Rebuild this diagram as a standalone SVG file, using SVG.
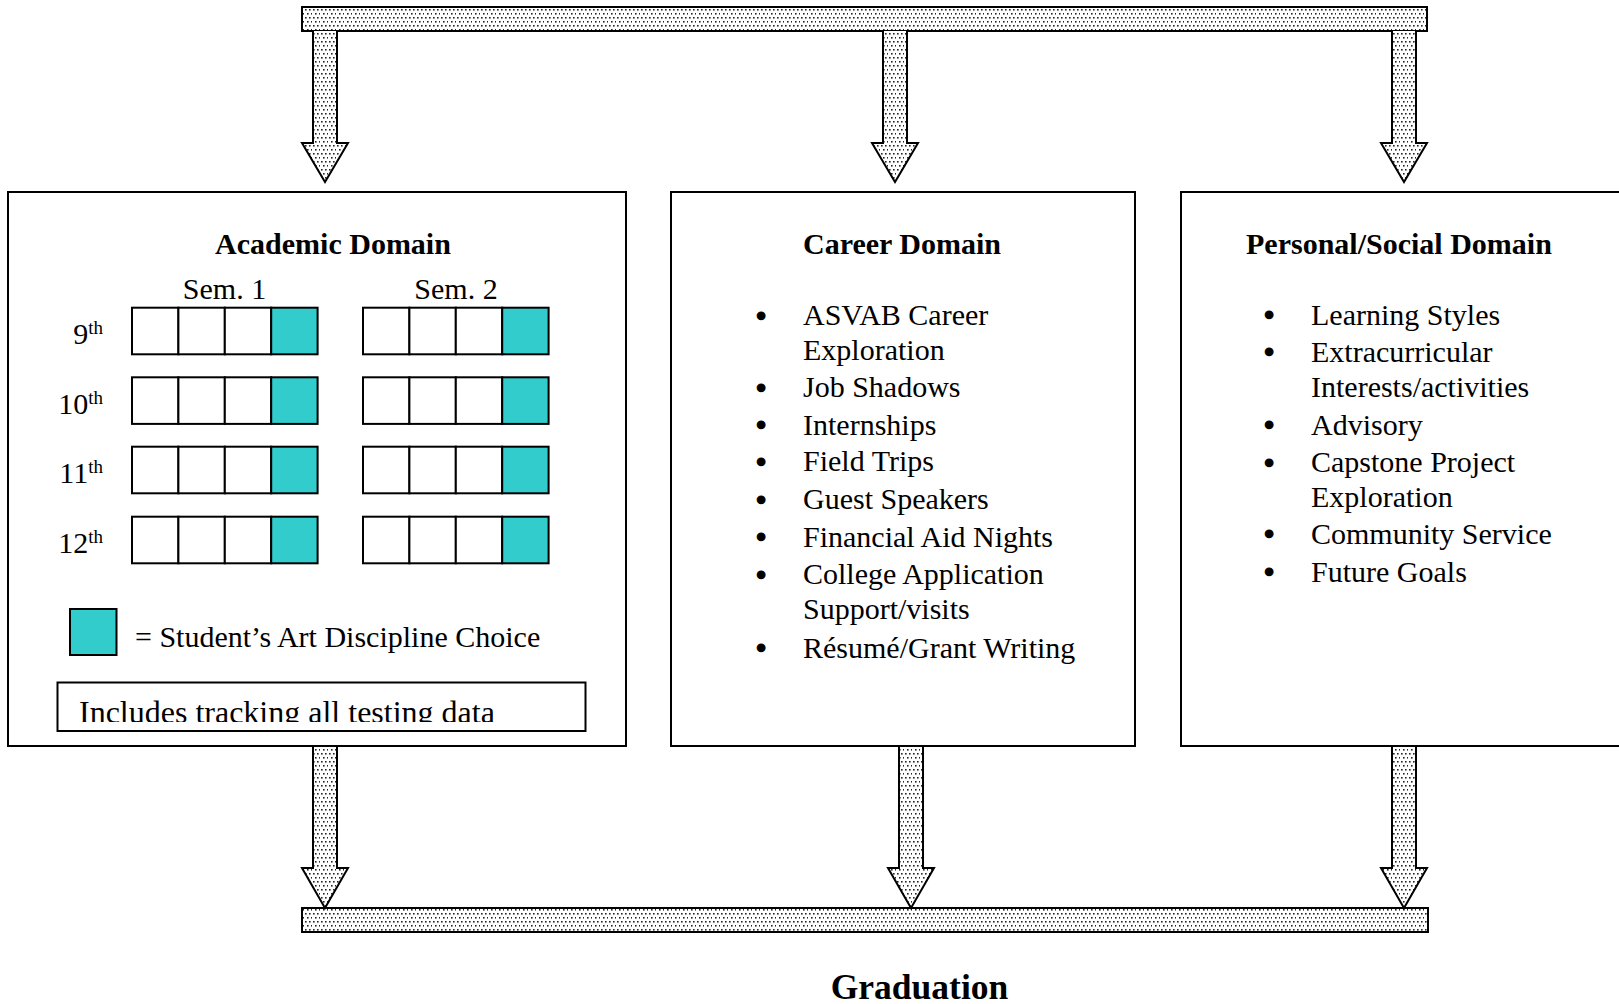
<svg xmlns="http://www.w3.org/2000/svg" width="1619" height="1004" viewBox="0 0 1619 1004">
<defs>
<pattern id="dots" width="8" height="8" patternUnits="userSpaceOnUse">
<rect width="8" height="8" fill="#ffffff"/>
<rect x="1" y="1" width="1.6" height="1.6" fill="#262626"/>
<rect x="5" y="1" width="1.6" height="1.6" fill="#262626"/>
<rect x="3" y="5" width="1.6" height="1.6" fill="#262626"/>
<rect x="7" y="5" width="1.6" height="1.6" fill="#262626"/>
</pattern>
<clipPath id="clipInc"><rect x="58" y="683" width="527" height="39"/></clipPath>
</defs>
<style>
.box{fill:#fff;stroke:#000;stroke-width:2}
.bar{fill:url(#dots);stroke:#000;stroke-width:2}
.arrow{fill:url(#dots);stroke:#000;stroke-width:2;stroke-linejoin:miter}
.cell{fill:#fff;stroke:#000;stroke-width:2}
.teal{fill:#33cccc;stroke:#000;stroke-width:2}
.h{font-family:"Liberation Serif","Times New Roman",serif;font-weight:bold;font-size:30px;fill:#000}
.t{font-family:"Liberation Serif","Times New Roman",serif;font-size:30px;fill:#000}
.sup{font-family:"Liberation Serif","Times New Roman",serif;font-size:19px;fill:#000}
.b{font-family:"Liberation Serif","Times New Roman",serif;font-size:32px;fill:#000;stroke:#000;stroke-width:1.2;text-anchor:middle}
</style>
<rect width="1619" height="1004" fill="#fff"/>

<g id="connectors">
<rect id="top-bar" class="bar" x="302" y="7" width="1125" height="24"/>
<path class="arrow" d="M313,31 V143 H302 L325,182 L348,143 H337 V31"/>
<path class="arrow" d="M883,31 V143 H872 L895,182 L918,143 H907 V31"/>
<path class="arrow" d="M1392,31 V143 H1381 L1404,182 L1427,143 H1416 V31"/>
<rect id="bottom-bar" class="bar" x="302" y="908" width="1126" height="24"/>
<path class="arrow" d="M313,747 V868 H302 L325,908 L348,868 H337 V747"/>
<path class="arrow" d="M899,747 V868 H888 L911,908 L934,868 H923 V747"/>
<path class="arrow" d="M1392,747 V868 H1381 L1404,908 L1427,868 H1416 V747"/>
</g>

<g id="academic">
<rect class="box" x="8" y="192" width="618" height="554"/>
<text class="h" x="333" y="254" text-anchor="middle">Academic Domain</text>
<text class="t" x="224.5" y="299" text-anchor="middle">Sem. 1</text>
<text class="t" x="456" y="299" text-anchor="middle">Sem. 2</text>
<g id="grid">
<g transform="translate(0,307.7)">
<rect class="cell" x="132" y="0" width="46.4" height="46.6"/><rect class="cell" x="178.4" y="0" width="46.4" height="46.6"/><rect class="cell" x="224.8" y="0" width="46.4" height="46.6"/><rect class="teal" x="271.2" y="0" width="46.4" height="46.6"/>
<rect class="cell" x="363" y="0" width="46.4" height="46.6"/><rect class="cell" x="409.4" y="0" width="46.4" height="46.6"/><rect class="cell" x="455.8" y="0" width="46.4" height="46.6"/><rect class="teal" x="502.2" y="0" width="46.4" height="46.6"/>
<text class="t" x="103" y="36.5" text-anchor="end">9<tspan class="sup" dy="-10">th</tspan></text>
</g>
<g transform="translate(0,377.3)">
<rect class="cell" x="132" y="0" width="46.4" height="46.6"/><rect class="cell" x="178.4" y="0" width="46.4" height="46.6"/><rect class="cell" x="224.8" y="0" width="46.4" height="46.6"/><rect class="teal" x="271.2" y="0" width="46.4" height="46.6"/>
<rect class="cell" x="363" y="0" width="46.4" height="46.6"/><rect class="cell" x="409.4" y="0" width="46.4" height="46.6"/><rect class="cell" x="455.8" y="0" width="46.4" height="46.6"/><rect class="teal" x="502.2" y="0" width="46.4" height="46.6"/>
<text class="t" x="103" y="36.5" text-anchor="end">10<tspan class="sup" dy="-10">th</tspan></text>
</g>
<g transform="translate(0,446.7)">
<rect class="cell" x="132" y="0" width="46.4" height="46.6"/><rect class="cell" x="178.4" y="0" width="46.4" height="46.6"/><rect class="cell" x="224.8" y="0" width="46.4" height="46.6"/><rect class="teal" x="271.2" y="0" width="46.4" height="46.6"/>
<rect class="cell" x="363" y="0" width="46.4" height="46.6"/><rect class="cell" x="409.4" y="0" width="46.4" height="46.6"/><rect class="cell" x="455.8" y="0" width="46.4" height="46.6"/><rect class="teal" x="502.2" y="0" width="46.4" height="46.6"/>
<text class="t" x="103" y="36.5" text-anchor="end">11<tspan class="sup" dy="-10">th</tspan></text>
</g>
<g transform="translate(0,516.7)">
<rect class="cell" x="132" y="0" width="46.4" height="46.6"/><rect class="cell" x="178.4" y="0" width="46.4" height="46.6"/><rect class="cell" x="224.8" y="0" width="46.4" height="46.6"/><rect class="teal" x="271.2" y="0" width="46.4" height="46.6"/>
<rect class="cell" x="363" y="0" width="46.4" height="46.6"/><rect class="cell" x="409.4" y="0" width="46.4" height="46.6"/><rect class="cell" x="455.8" y="0" width="46.4" height="46.6"/><rect class="teal" x="502.2" y="0" width="46.4" height="46.6"/>
<text class="t" x="103" y="36.5" text-anchor="end">12<tspan class="sup" dy="-10">th</tspan></text>
</g>
</g>
<rect class="teal" x="70" y="609" width="46.5" height="46"/>
<text class="t" x="135" y="647">= Student’s Art Discipline Choice</text>
<rect class="box" x="57.5" y="682.5" width="528" height="48.5"/>
<text class="t" x="79" y="723" style="font-size:32px" clip-path="url(#clipInc)">Includes tracking all testing data</text>
</g>

<g id="career">
<rect class="box" x="671" y="192" width="464" height="554"/>
<text class="h" x="803" y="254">Career Domain</text>
<g class="t">
<text x="803" y="325">ASVAB Career</text>
<text x="803" y="360">Exploration</text>
<text x="803" y="397">Job Shadows</text>
<text x="803" y="434.5">Internships</text>
<text x="803" y="471">Field Trips</text>
<text x="803" y="509">Guest Speakers</text>
<text x="803" y="546.5">Financial Aid Nights</text>
<text x="803" y="584">College Application</text>
<text x="803" y="618.5">Support/visits</text>
<text x="803" y="657.5">Résumé/Grant Writing</text>
</g>
<g class="b">
<text x="761" y="326.5">•</text>
<text x="761" y="398.5">•</text>
<text x="761" y="436">•</text>
<text x="761" y="472.5">•</text>
<text x="761" y="510.5">•</text>
<text x="761" y="548">•</text>
<text x="761" y="585.5">•</text>
<text x="761" y="659">•</text>
</g>
</g>

<g id="personal">
<rect class="box" x="1181" y="192" width="460" height="554"/>
<text class="h" x="1246" y="254">Personal/Social Domain</text>
<g class="t">
<text x="1311" y="324.5">Learning Styles</text>
<text x="1311" y="361.5">Extracurricular</text>
<text x="1311" y="396.5">Interests/activities</text>
<text x="1311" y="434.5">Advisory</text>
<text x="1311" y="472">Capstone Project</text>
<text x="1311" y="507">Exploration</text>
<text x="1311" y="543.5">Community Service</text>
<text x="1311" y="581.5">Future Goals</text>
</g>
<g class="b">
<text x="1269" y="326">•</text>
<text x="1269" y="363">•</text>
<text x="1269" y="436">•</text>
<text x="1269" y="473.5">•</text>
<text x="1269" y="545">•</text>
<text x="1269" y="583">•</text>
</g>
</g>

<g id="graduation">
<text class="h" x="919.5" y="999" text-anchor="middle" style="font-size:35.5px">Graduation</text>
</g>
</svg>
